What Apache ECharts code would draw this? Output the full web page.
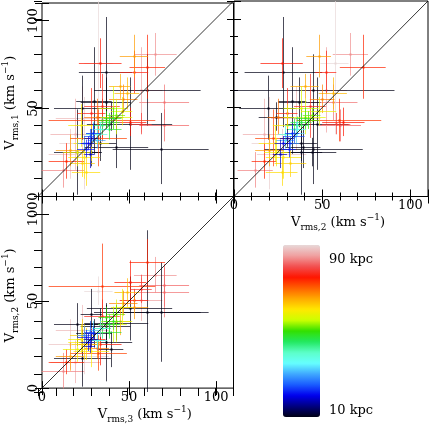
<!DOCTYPE html>
<html>
<head>
<meta charset="utf-8">
<script src="https://cdn.jsdelivr.net/npm/echarts@6/dist/echarts.min.js"></script>
<style>
  html, body { margin: 0; padding: 0; background: #fff; }
  #chart { width: 431px; height: 425px; }
</style>
</head>
<body>
<div id="chart"></div>
<script>
// one entry per object: rms velocity along three axes (km/s), their errors, distance (kpc)
const v1   = [80, 53, 40, 35, 24, 44, 60, 30, 15, 75,   70, 60, 27, 41, 50, 53, 54, 28, 25, 25, 45, 30,   75, 73, 70, 42, 43, 47, 20, 33, 51, 41,   79, 58, 55, 26, 62, 45,   25, 22, 45, 30, 19, 48, 40, 14, 50,   42, 44, 40, 43, 38, 46,   32, 36, 38, 30, 35,   33, 30, 36, 24, 34, 27];
const e1   = [12, 10,  9, 20, 14, 18, 24, 26, 10, 40,   31, 20, 20, 26, 18, 14, 30, 12, 24,  8,  8, 10,   14, 18, 12,  8, 12, 14, 10, 16, 18,  6,   12,  9,  8,  9,  7, 10,    8, 12, 10, 10,  8,  8, 12,  8, 12,    5,  6,  5,  5,  6,  4,    5,  6,  4,  4,  5,    5,  4,  5,  8,  4,  5];
const v2   = [66, 56, 60, 17, 27, 35, 52, 20, 12, 57,   28, 45, 45, 47, 19, 37, 33, 39, 38, 44, 24, 38,   27, 73, 52, 62, 59.5, 30, 17, 22, 43, 58,   48, 56, 50, 20, 40, 25,   24, 28, 40, 23, 32, 48, 30, 27, 38,   38, 40, 36, 42, 34, 44,   29, 35, 36, 32, 29,   30, 28, 33, 26, 34, 31];
const e2   = [10, 14, 12, 12, 14, 14, 12, 10, 10,  8,   22, 46, 28, 18, 16, 12,  8, 10, 12, 14, 10,  9,   12, 13,  6, 12, 24,  6,  7, 10,  9,  8,    7,  8,  7,  8,  8,  6,    7, 10, 12,  9,  9, 10,  8,  9, 10,    6,  5,  6,  6,  4,  5,    5,  5,  5,  5,  4,    4,  5,  4,  4,  6,  4];
const v3   = [66, 71, 71, 21, 18, 25, 58, 26, 14, 34,   38, 61.5, 69, 51.5, 25, 38, 31.5, 44, 22, 30, 41, 35,   35, 61.5, 54, 52, 36, 30, 16, 34, 36, 58,   54, 50, 48, 18, 46, 33,   22, 26, 44, 30, 25, 47, 24, 27, 42,   40, 42, 36, 38, 40, 44,   33, 31, 35, 26, 33,   30, 28, 31, 29, 29, 27];
const e3   = [12, 14, 14, 14, 12, 15, 12, 14, 12,  8,   15, 30, 27, 24, 16, 14, 10, 18, 13,  6,  7,  9,   12, 10,  8,  9, 30,  8, 10, 16, 10,  6,    8,  7,  8,  8,  6,  7,    8,  9,  9, 10,  7,  6,  7,  8,  8,    6,  5,  5,  4,  7,  5,    5,  4,  5,  4,  6,    4,  4,  4,  3,  3,  5];
const dist = [84, 82, 81, 86, 88, 87, 85, 89, 83, 90,   10, 10, 10, 10, 10, 10, 10, 10, 10, 10, 10, 10,   75, 74, 76, 75, 73, 76, 74, 72, 77, 78,   66, 64, 68, 66, 65, 69,   58, 60, 57, 60, 62, 58, 59, 61, 56,   46, 48, 44, 50, 47, 52,   30, 33, 36, 28, 38,   16, 20, 22, 18, 24, 21];

// colour bar stops, 10 to 90 kpc in steps of 5
const distColors = ['#000014', '#000080', '#0000ee', '#1a5cff', '#3fa8ff', '#66ffff', '#5cffc8', '#22e860',
                    '#33e000', '#ccff00', '#ffe800', '#ffaa00', '#ff6000', '#ff1500', '#f25050', '#f0a0a0', '#e8d8d8'];
const tickLabels = [0, 50, 100];

const font = 'DejaVu Serif';
const titleRich = {
  v: { fontFamily: font, fontSize: 13, lineHeight: 19, color: '#000' },
  s: { fontFamily: font, fontSize: 9, lineHeight: 9, verticalAlign: 'bottom', color: '#000' },
  p: { fontFamily: font, fontSize: 9, lineHeight: 9, verticalAlign: 'top', color: '#000' }
};
function title(sub) {
  return '{v|V}{s|rms,' + sub + '}{v| (km s}{p|\u22121}{v|)}';
}

// panel layout and which velocities go on which axis
const panels = [
  { rect: { left: 38, top: 1, width: 195.5, height: 195.5 }, xs: v3, xe: e3, ys: v1, ye: e1, xLab: false, yLab: true, xName: '', yName: title(1) },
  { rect: { left: 234, top: 1, width: 194, height: 195.5 }, xs: v2, xe: e2, ys: v1, ye: e1, xLab: true, yLab: false, xName: title(2), yName: '' },
  { rect: { left: 38, top: 196.5, width: 195.5, height: 195.5 }, xs: v3, xe: e3, ys: v2, ye: e2, xLab: true, yLab: true, xName: title(3), yName: title(2) }
];

function tickAxis(gridIndex, position, step, len, showLab, name, isY) {
  const a = {
    type: 'value', gridIndex: gridIndex, position: position,
    min: 0, max: 110, interval: step,
    axisLine: { show: false },
    axisTick: { show: true, inside: true, length: len, lineStyle: { color: '#000', width: 1 } },
    splitLine: { show: false },
    axisLabel: {
      show: showLab, fontFamily: font, fontSize: 13, color: '#000',
      margin: isY ? 2 : 3, rotate: isY ? 90 : 0,
      formatter: function (v) { return tickLabels.indexOf(v) >= 0 ? String(v) : ''; }
    }
  };
  if (name) {
    a.name = name;
    a.nameLocation = 'middle';
    a.nameGap = isY ? 22 : 14;
    a.nameTextStyle = { rich: titleRich, padding: isY ? [0, 6, 0, 0] : [0, 0, 0, 14] };
  }
  return a;
}

const grids = [], xAxes = [], yAxes = [], series = [];
panels.forEach(function (p, i) {
  // grid 2i: minor ticks, grid 2i+1: major ticks, labels and frame
  grids.push(Object.assign({ show: false }, p.rect));
  grids.push(Object.assign({ show: true, borderColor: '#000', borderWidth: 1, backgroundColor: 'transparent' }, p.rect));
  xAxes.push(tickAxis(2 * i, 'bottom', 10, 4, false, '', false));
  xAxes.push(tickAxis(2 * i, 'top', 10, 4, false, '', false));
  xAxes.push(tickAxis(2 * i + 1, 'bottom', 50, 7, p.xLab, p.xName, false));
  xAxes.push(tickAxis(2 * i + 1, 'top', 50, 7, false, '', false));
  yAxes.push(tickAxis(2 * i, 'left', 10, 4, false, '', true));
  yAxes.push(tickAxis(2 * i, 'right', 10, 4, false, '', true));
  yAxes.push(tickAxis(2 * i + 1, 'left', 50, 7, p.yLab, p.yName, true));
  yAxes.push(tickAxis(2 * i + 1, 'right', 50, 7, false, '', true));

  series.push({
    type: 'custom',
    xAxisIndex: 4 * i, yAxisIndex: 4 * i,
    clip: true, silent: true,
    data: p.xs.map(function (x, k) { return [x, p.ys[k], p.xe[k], p.ye[k], dist[k]]; }),
    renderItem: function (params, api) {
      const x = api.value(0), y = api.value(1), ex = api.value(2), ey = api.value(3);
      const c = api.coord([x, y]);
      const l = api.coord([x - ex, y]), r = api.coord([x + ex, y]);
      const b = api.coord([x, y - ey]), t = api.coord([x, y + ey]);
      const color = api.visual('color');
      const cx = Math.round(c[0]) + 0.5, cy = Math.round(c[1]) + 0.5;
      return {
        type: 'group',
        children: [
          { type: 'line', shape: { x1: l[0], y1: cy, x2: r[0], y2: cy }, style: { stroke: color, lineWidth: 1, opacity: 0.7 } },
          { type: 'line', shape: { x1: cx, y1: b[1], x2: cx, y2: t[1] }, style: { stroke: color, lineWidth: 1, opacity: 0.7 } },
          { type: 'rect', shape: { x: cx - 1, y: cy - 1, width: 2, height: 2 }, style: { fill: color } }
        ]
      };
    }
  });
});

panels.forEach(function (p, i) {
  series.push({
    type: 'line', xAxisIndex: 4 * i, yAxisIndex: 4 * i,
    data: [[0, 0], [110, 110]], symbol: 'none', silent: true, z: 5,
    lineStyle: { color: '#000', width: 0.8 }
  });
});

const chart = echarts.init(document.getElementById('chart'), null, { renderer: 'canvas' });
chart.setOption({
  animation: false,
  backgroundColor: '#fff',
  grid: grids,
  xAxis: xAxes,
  yAxis: yAxes,
  visualMap: {
    type: 'continuous', min: 10, max: 90, dimension: 4, seriesIndex: [0, 1, 2],
    orient: 'vertical', left: 283, top: 245, itemWidth: 37, itemHeight: 172,
    calculable: false, hoverLink: false, padding: 0,
    inRange: { color: distColors }
  },
  graphic: [
    { type: 'text', left: 329, top: 253, style: { text: '90 kpc', font: '13px "DejaVu Serif"', fill: '#000' } },
    { type: 'text', left: 329, top: 404, style: { text: '10 kpc', font: '13px "DejaVu Serif"', fill: '#000' } }
  ],
  series: series
});
</script>
</body>
</html>
